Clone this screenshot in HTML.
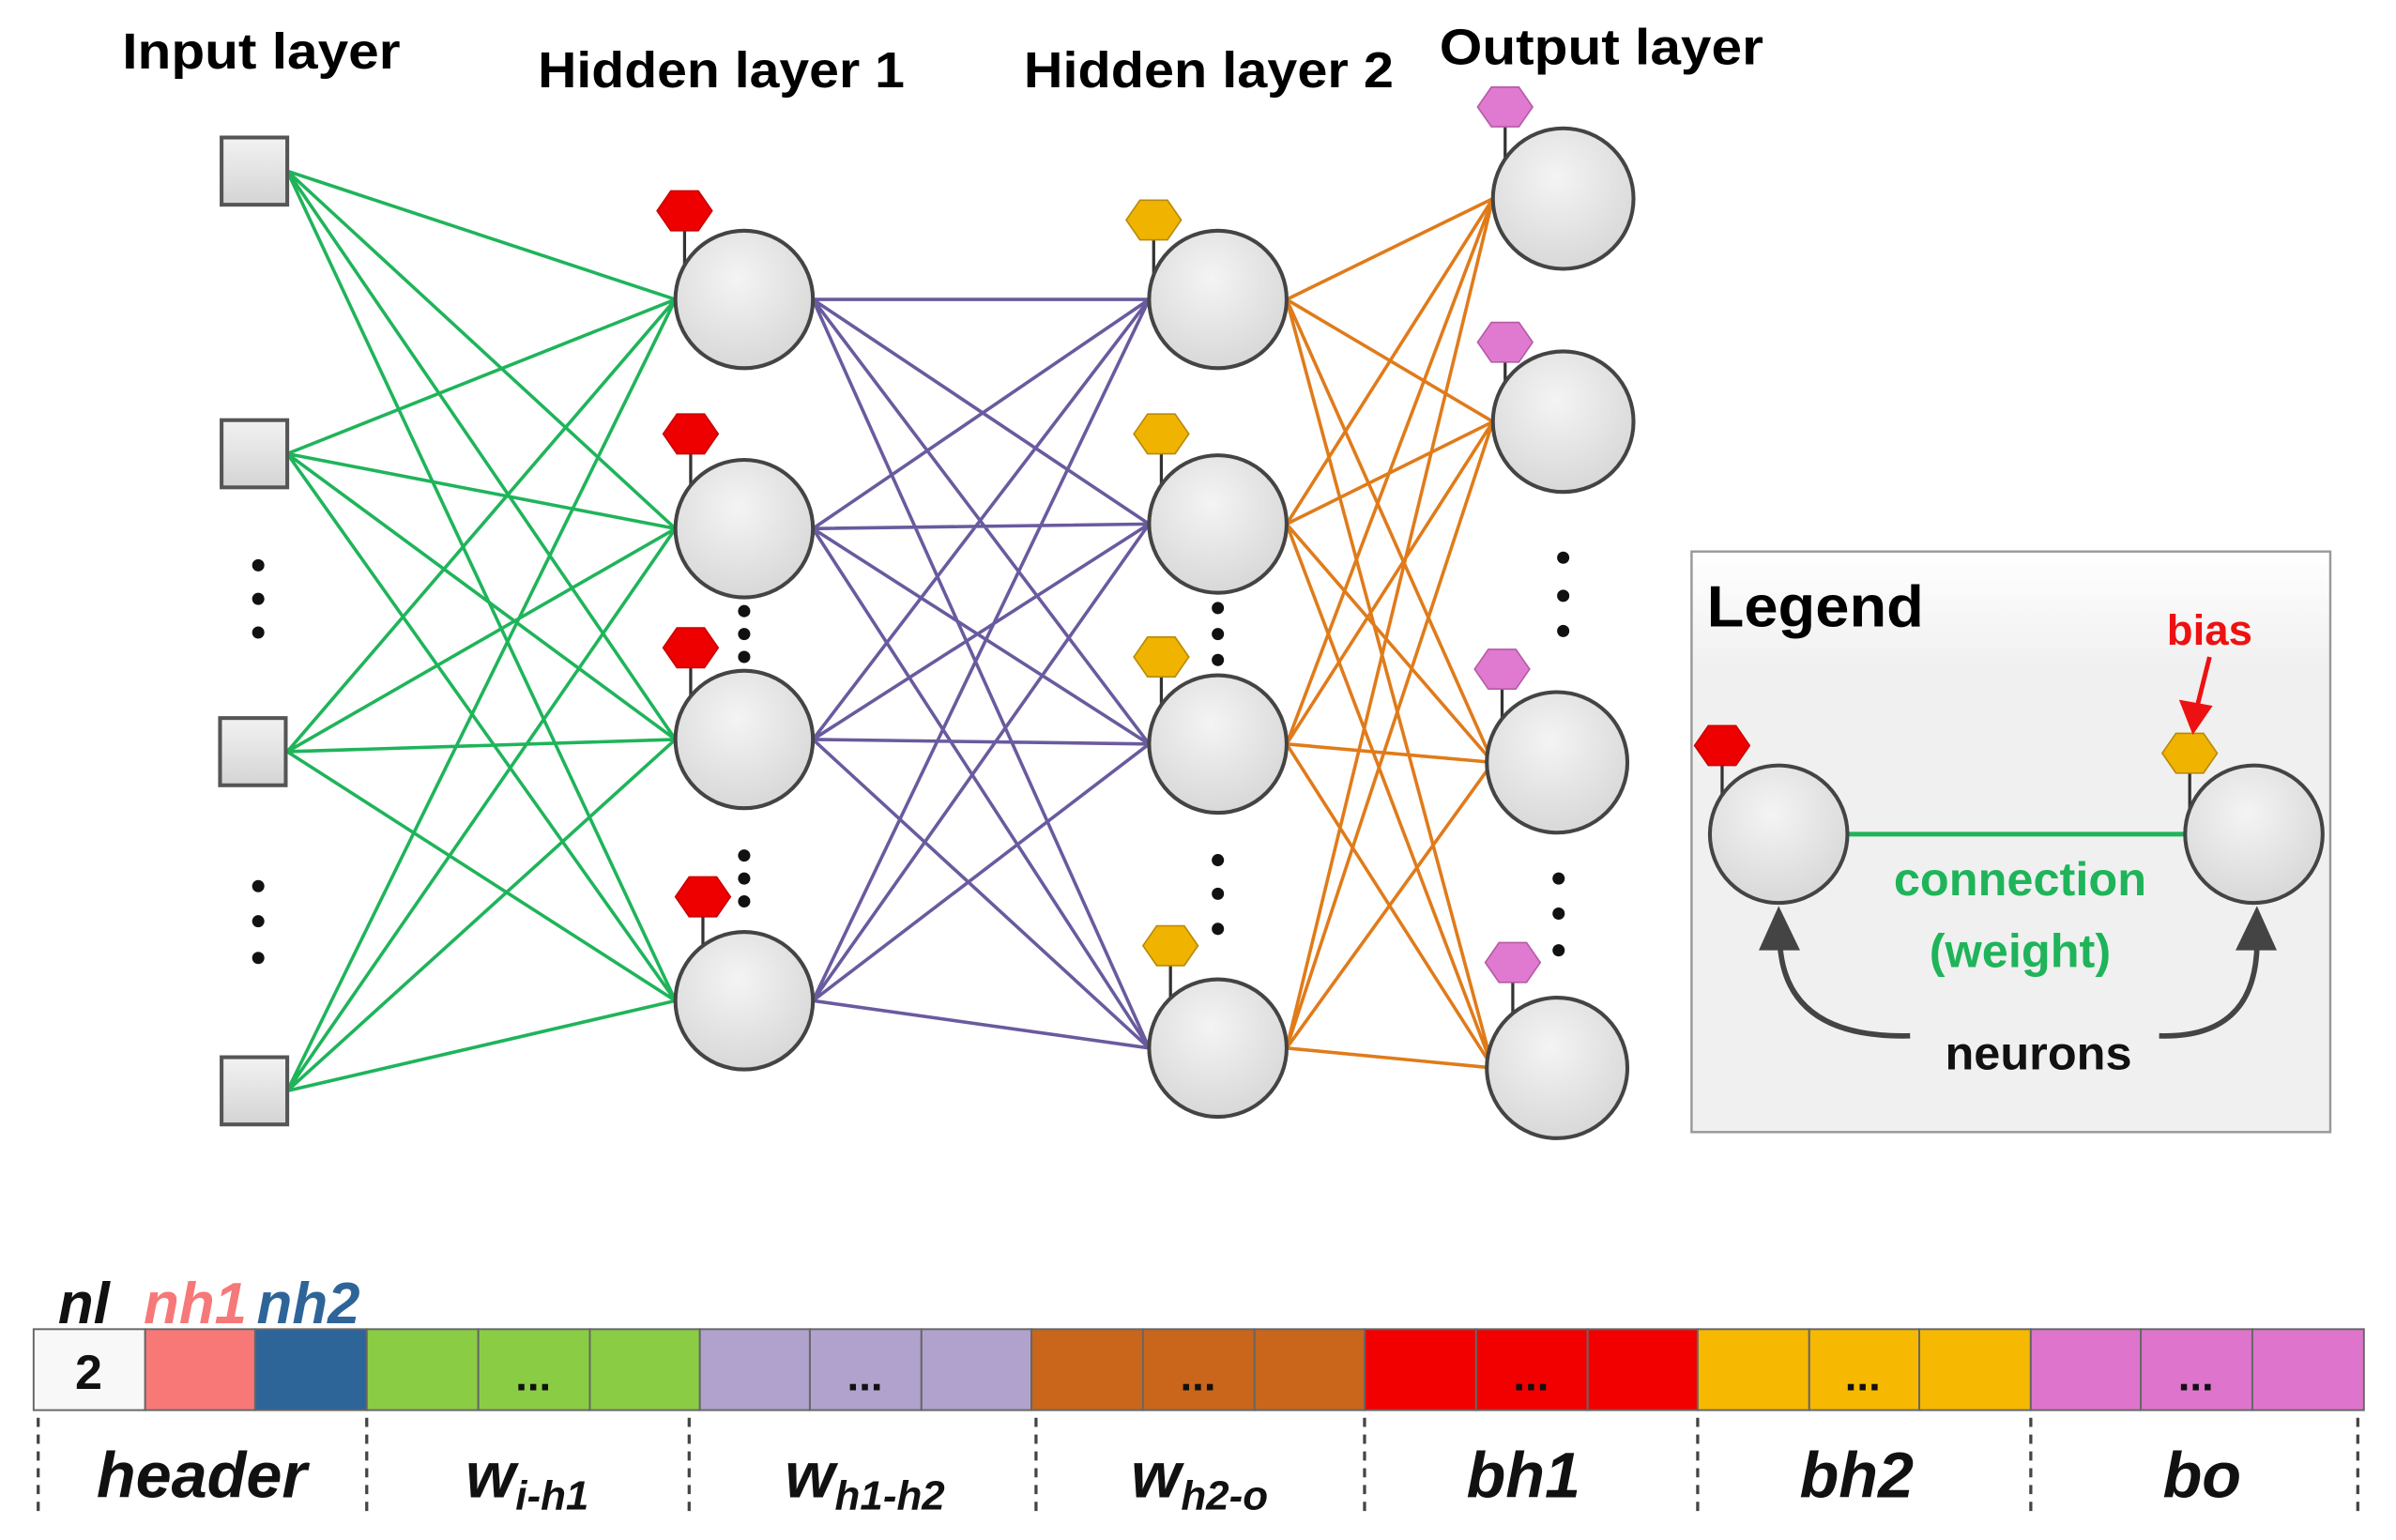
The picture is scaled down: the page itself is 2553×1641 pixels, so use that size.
<!DOCTYPE html>
<html><head><meta charset="utf-8"><style>
html,body{margin:0;padding:0;background:#fff}
svg{display:block}
text{font-family:"Liberation Sans","DejaVu Sans",sans-serif;font-weight:bold}
</style></head><body>
<svg width="2553" height="1641" viewBox="0 0 1568 1008" preserveAspectRatio="none" xmlns="http://www.w3.org/2000/svg">
<defs>
<radialGradient id="cg" cx="0.45" cy="0.35" r="0.7"><stop offset="0" stop-color="#f4f4f4"/><stop offset="1" stop-color="#d6d6d6"/></radialGradient>
<linearGradient id="sg" x1="0" y1="0" x2="0" y2="1"><stop offset="0" stop-color="#f2f2f2"/><stop offset="1" stop-color="#d4d4d4"/></linearGradient>
<linearGradient id="lg" x1="0" y1="0" x2="0" y2="1"><stop offset="0" stop-color="#ffffff"/><stop offset="0.2" stop-color="#f0f0f0"/><stop offset="1" stop-color="#f0f0f0"/></linearGradient>
<g id="hex"><polygon points="-18,0 -9,-13 9,-13 18,0 9,13 -9,13"/></g>
</defs>

<!-- titles -->
<text x="80" y="45" font-size="33" textLength="182" lengthAdjust="spacingAndGlyphs">Input layer</text>
<text x="352" y="57" font-size="33" textLength="240" lengthAdjust="spacingAndGlyphs">Hidden layer 1</text>
<text x="670" y="57" font-size="33" textLength="242" lengthAdjust="spacingAndGlyphs">Hidden layer 2</text>
<text x="942" y="42" font-size="33" textLength="212" lengthAdjust="spacingAndGlyphs">Output layer</text>

<!-- connections -->
<path fill="none" stroke="#1fb45a" stroke-width="2.2" d="
M188 112L442 196M188 112L442 346M188 112L442 484M188 112L442 655
M188 297L442 196M188 297L442 346M188 297L442 484M188 297L442 655
M188 492L442 196M188 492L442 346M188 492L442 484M188 492L442 655
M188 714L442 196M188 714L442 346M188 714L442 484M188 714L442 655"/>
<path fill="none" stroke="#6a5a9e" stroke-width="2.2" d="
M532 196L752 196M532 196L752 343M532 196L752 487M532 196L752 686
M532 346L752 196M532 346L752 343M532 346L752 487M532 346L752 686
M532 484L752 196M532 484L752 343M532 484L752 487M532 484L752 686
M532 655L752 196M532 655L752 343M532 655L752 487M532 655L752 686"/>
<path fill="none" stroke="#e07b1a" stroke-width="2.2" d="
M842 196L977 130M842 196L977 276M842 196L977 499M842 196L977 699
M842 343L977 130M842 343L977 276M842 343L977 499M842 343L977 699
M842 487L977 130M842 487L977 276M842 487L977 499M842 487L977 699
M842 686L977 130M842 686L977 276M842 686L977 499M842 686L977 699"/>

<!-- input squares -->
<g fill="url(#sg)" stroke="#555" stroke-width="2.5">
<rect x="145" y="90" width="43" height="44"/>
<rect x="145" y="275" width="43" height="44"/>
<rect x="144" y="470" width="43" height="44"/>
<rect x="145" y="692" width="43" height="44"/>
</g>

<!-- dots -->
<g fill="#111">
<circle cx="169" cy="370" r="4"/><circle cx="169" cy="392" r="4"/><circle cx="169" cy="414" r="4"/>
<circle cx="169" cy="580" r="4"/><circle cx="169" cy="603" r="4"/><circle cx="169" cy="627" r="4"/>
<circle cx="487" cy="400" r="4"/><circle cx="487" cy="415" r="4"/><circle cx="487" cy="430" r="4"/>
<circle cx="487" cy="560" r="4"/><circle cx="487" cy="575" r="4"/><circle cx="487" cy="590" r="4"/>
<circle cx="797" cy="398" r="4"/><circle cx="797" cy="415" r="4"/><circle cx="797" cy="432" r="4"/>
<circle cx="797" cy="563" r="4"/><circle cx="797" cy="585" r="4"/><circle cx="797" cy="608" r="4"/>
<circle cx="1023" cy="365" r="4"/><circle cx="1023" cy="390" r="4"/><circle cx="1023" cy="413" r="4"/>
<circle cx="1020" cy="575" r="4"/><circle cx="1020" cy="598" r="4"/><circle cx="1020" cy="622" r="4"/>
</g>

<!-- bias sticks -->
<g stroke="#333" stroke-width="2">
<path d="M448 138V190M452 284V330M452 424V470M460 587V640"/>
<path d="M755 144V190M760 284V330M760 430V475M766 619V670"/>
<path d="M985 70V120M985 224V265M983 438V485M990 630V680"/>
</g>
<!-- hexes -->
<g fill="#ee0000" stroke="#c00" stroke-width="1">
<use href="#hex" x="448" y="138"/><use href="#hex" x="452" y="284"/><use href="#hex" x="452" y="424"/><use href="#hex" x="460" y="587"/>
</g>
<g fill="#f0b400" stroke="#b8890a" stroke-width="1">
<use href="#hex" x="755" y="144"/><use href="#hex" x="760" y="284"/><use href="#hex" x="760" y="430"/><use href="#hex" x="766" y="619"/>
</g>
<g fill="#e07ad0" stroke="#b55aa5" stroke-width="1">
<use href="#hex" x="985" y="70"/><use href="#hex" x="985" y="224"/><use href="#hex" x="983" y="438"/><use href="#hex" x="990" y="630"/>
</g>

<!-- neurons -->
<g fill="url(#cg)" stroke="#444" stroke-width="2.5">
<circle cx="487" cy="196" r="45"/><circle cx="487" cy="346" r="45"/><circle cx="487" cy="484" r="45"/><circle cx="487" cy="655" r="45"/>
<circle cx="797" cy="196" r="45"/><circle cx="797" cy="343" r="45"/><circle cx="797" cy="487" r="45"/><circle cx="797" cy="686" r="45"/>
<circle cx="1023" cy="130" r="46"/><circle cx="1023" cy="276" r="46"/><circle cx="1019" cy="499" r="46"/><circle cx="1019" cy="699" r="46"/>
</g>

<!-- legend -->
<rect x="1107" y="361" width="418" height="380" fill="url(#lg)" stroke="#999" stroke-width="1.5"/>
<text x="1117" y="410" font-size="38" textLength="142" lengthAdjust="spacingAndGlyphs">Legend</text>
<line x1="1209" y1="546" x2="1430" y2="546" stroke="#1fb45a" stroke-width="3"/>
<g stroke="#333" stroke-width="2"><path d="M1127 488V530M1433 493V530"/></g>
<g fill="#ee0000" stroke="#c00"><use href="#hex" x="1127" y="488"/></g>
<g fill="#f0b400" stroke="#b8890a"><use href="#hex" x="1433" y="493"/></g>
<g fill="url(#cg)" stroke="#444" stroke-width="2.5">
<circle cx="1164" cy="546" r="45"/><circle cx="1475" cy="546" r="45"/>
</g>
<text x="1446" y="422" font-size="28" fill="#ee1111" text-anchor="middle">bias</text>
<line x1="1446" y1="430" x2="1438" y2="462" stroke="#ee1111" stroke-width="3"/>
<polygon points="1426,458 1448,462 1435,481" fill="#ee1111"/>
<text x="1322" y="586" font-size="31" fill="#1fb45a" text-anchor="middle">connection</text>
<text x="1322" y="633" font-size="31" fill="#1fb45a" text-anchor="middle">(weight)</text>
<text x="1334" y="700" font-size="31" fill="#111" text-anchor="middle">neurons</text>
<path d="M1250 678 Q1170 680 1165 620" fill="none" stroke="#444" stroke-width="3.5"/>
<polygon points="1151,622 1164,593 1178,622" fill="#444"/>
<path d="M1413 678 Q1475 680 1477 620" fill="none" stroke="#444" stroke-width="3.5"/>
<polygon points="1463,622 1477,593 1490,622" fill="#444"/>

<!-- bottom bar labels -->
<g font-size="38" font-style="italic">
<text x="38" y="866" fill="#111">nl</text>
<text x="94" y="866" fill="#f77878">nh1</text>
<text x="168" y="866" fill="#2e6599">nh2</text>
</g>

<!-- bar cells -->
<g stroke="#666" stroke-width="1.2">
<rect x="22" y="870" width="73" height="53" fill="#f8f8f8"/>
<rect x="95" y="870" width="72" height="53" fill="#f87878"/>
<rect x="167" y="870" width="73" height="53" fill="#2e6599"/>
<rect x="240" y="870" width="73" height="53" fill="#8acd44"/>
<rect x="313" y="870" width="73" height="53" fill="#8acd44"/>
<rect x="386" y="870" width="72" height="53" fill="#8acd44"/>
<rect x="458" y="870" width="72" height="53" fill="#b0a2cc"/>
<rect x="530" y="870" width="73" height="53" fill="#b0a2cc"/>
<rect x="603" y="870" width="72" height="53" fill="#b0a2cc"/>
<rect x="675" y="870" width="73" height="53" fill="#c9661c"/>
<rect x="748" y="870" width="73" height="53" fill="#c9661c"/>
<rect x="821" y="870" width="72" height="53" fill="#c9661c"/>
<rect x="893" y="870" width="73" height="53" fill="#f20000"/>
<rect x="966" y="870" width="73" height="53" fill="#f20000"/>
<rect x="1039" y="870" width="72" height="53" fill="#f20000"/>
<rect x="1111" y="870" width="73" height="53" fill="#f6b800"/>
<rect x="1184" y="870" width="72" height="53" fill="#f6b800"/>
<rect x="1256" y="870" width="73" height="53" fill="#f6b800"/>
<rect x="1329" y="870" width="72" height="53" fill="#df74cc"/>
<rect x="1401" y="870" width="73" height="53" fill="#df74cc"/>
<rect x="1474" y="870" width="73" height="53" fill="#df74cc"/>
</g>
<text x="58" y="909" font-size="32" text-anchor="middle" fill="#111">2</text>
<g font-size="28" text-anchor="middle" fill="#111">
<text x="349" y="910">...</text><text x="566" y="910">...</text><text x="784" y="910">...</text>
<text x="1002" y="910">...</text><text x="1219" y="910">...</text><text x="1437" y="910">...</text>
</g>

<!-- dashed separators -->
<g stroke="#444" stroke-width="2" stroke-dasharray="6,5">
<path d="M25 928V990M240 928V990M451 928V990M678 928V990M893 928V990M1111 928V990M1329 928V990M1543 928V990"/>
</g>

<!-- bottom labels -->
<g font-size="42" font-style="italic" fill="#111" text-anchor="middle">
<text x="132" y="980">header</text>
<text x="345" y="980">w<tspan font-size="27" dy="8">i-h1</tspan></text>
<text x="566" y="980">w<tspan font-size="27" dy="8">h1-h2</tspan></text>
<text x="785" y="980">w<tspan font-size="27" dy="8">h2-o</tspan></text>
<text x="997" y="980">bh1</text>
<text x="1215" y="980">bh2</text>
<text x="1441" y="980">bo</text>
</g>
</svg>
</body></html>
